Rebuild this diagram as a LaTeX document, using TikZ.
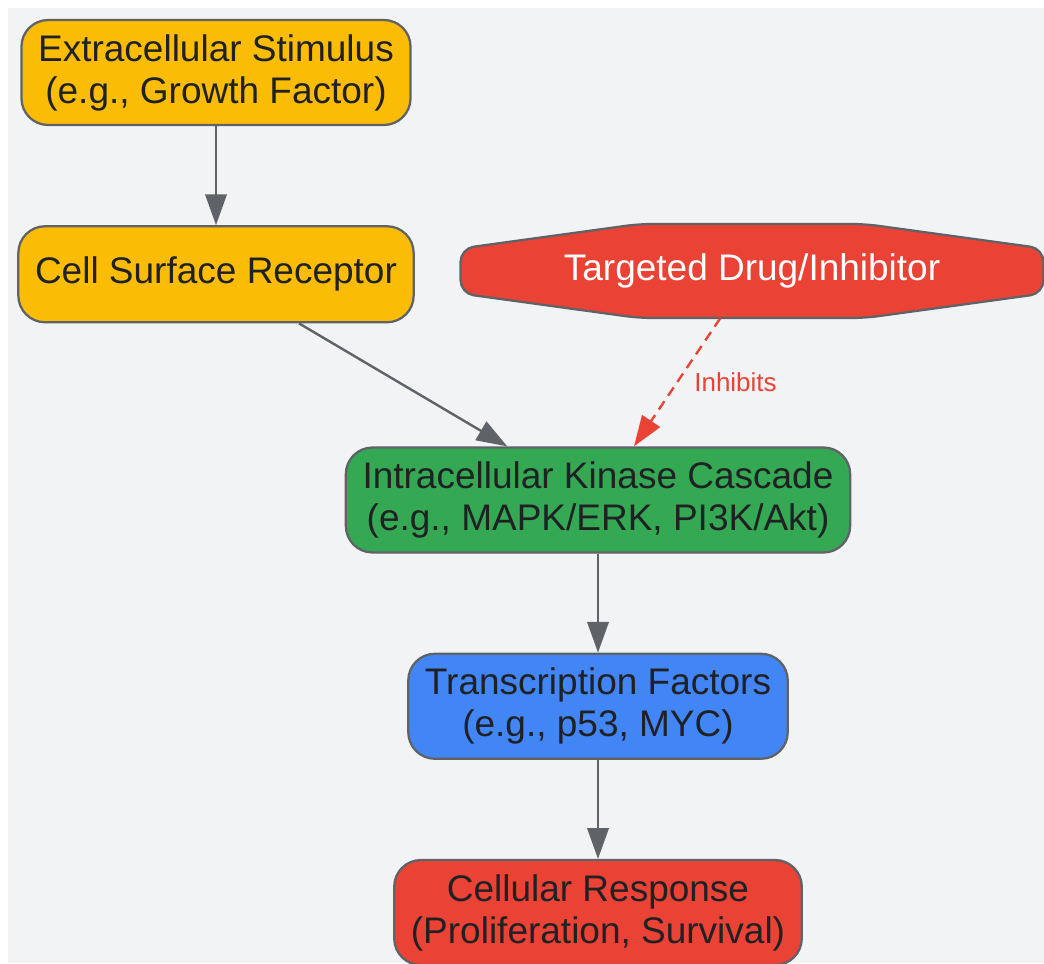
\documentclass[tikz,border=0pt]{standalone}
\usepackage{fontspec}
\setmainfont{Liberation Sans}
\usepackage{tikz}
\usetikzlibrary{arrows.meta, positioning}
\definecolor{StimYellow}{RGB}{251, 188, 5}
\definecolor{SignalRed}{RGB}{234, 67, 53}
\definecolor{CascadeGreen}{RGB}{52, 168, 83}
\definecolor{FactorBlue}{RGB}{66, 133, 244}
\definecolor{EdgeGray}{RGB}{95, 99, 104}
\definecolor{TextDark}{RGB}{32, 33, 36}
\definecolor{CanvasGray}{RGB}{241, 243, 244}

\begin{document}
\begin{tikzpicture}[
            x=0.75pt, y=-0.75pt,
            box/.style={rectangle, rounded corners=20pt, draw=EdgeGray, line width=1.7pt,
                        text=TextDark, inner xsep=12.5pt, minimum height=78.75pt, align=center,
                        font=\fontsize{27.75pt}{31.5pt}\selectfont},
            drugshape/.style={draw=EdgeGray, fill=SignalRed, line width=1.7pt, rounded corners=10pt},
            drugtext/.style={rectangle, minimum width=437pt, minimum height=70.5pt, text=white,
                        font=\fontsize{27.75pt}{31.5pt}\selectfont},
            arrow/.style={-{Triangle[length=23pt, width=16pt]}, line width=1.8pt, EdgeGray},
            inhibit/.style={-{Triangle[length=23pt, width=16pt]}, line width=1.8pt, SignalRed,
                        dash pattern=on 7.5pt off 5pt},
            inhlabel/.style={text=SignalRed, inner sep=3pt, font=\fontsize{19.5pt}{23pt}\selectfont}
        ]
            \useasboundingbox (0,0) rectangle (1044,963);
            \fill[CanvasGray] (8,8) rectangle (1044,963);

            % Left column
            \node[box, fill=StimYellow] (stim) at (216,72.5) {Extracellular Stimulus\\(e.g., Growth Factor)};
            \node[box, fill=StimYellow, minimum height=72pt, below=74.25pt of stim] (rec) {Cell Surface Receptor};

            % Drug
            \coordinate (drugc) at (752,271);
            \draw[drugshape, shift={(drugc)}] (-291.5,-22.5) -- (-113,-47) -- (113,-47) -- (291.5,-22.5)
                -- (291.5,22.5) -- (113,47) -- (-113,47) -- (-291.5,22.5) -- cycle;
            \node[drugtext] (drug) at (drugc) {Targeted Drug/Inhibitor};

            % Centre column
            \node[box, fill=CascadeGreen] (kin) at (598,500) {Intracellular Kinase Cascade\\(e.g., MAPK/ERK, PI3K/Akt)};
            \node[box, fill=FactorBlue, below=74.25pt of kin] (tf) {Transcription Factors\\(e.g., p53, MYC)};
            \node[box, fill=SignalRed, below=74.25pt of tf] (resp) {Cellular Response\\(Proliferation, Survival)};

            % Arrows
            \draw[arrow] (stim) -- (rec);
            \draw[arrow] (rec) -- (kin);
            \draw[arrow] (kin) -- (tf);
            \draw[arrow] (tf) -- (resp);

            % Inhibition
            \draw[inhibit] (drug) -- node[inhlabel, midway, right=9pt] {Inhibits} (kin);
        \end{tikzpicture}
\end{document}
